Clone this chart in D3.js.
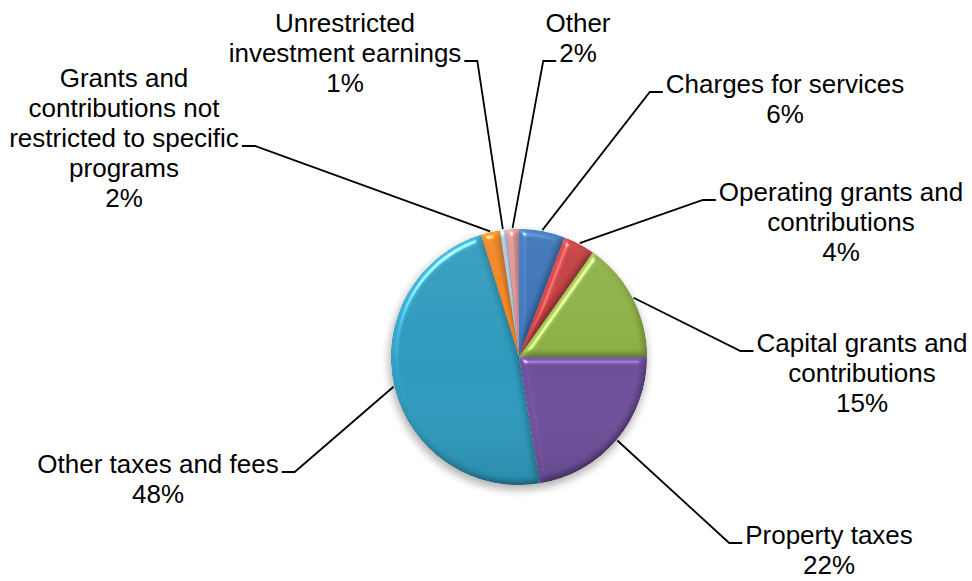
<!DOCTYPE html>
<html>
<head>
<meta charset="utf-8">
<script src="https://cdn.jsdelivr.net/npm/d3@7"></script>
<style>
  body { margin: 0; background: #fff; }
  text { font-family: "Liberation Sans", Arial, sans-serif; font-size: 26px; fill: #000; }
</style>
</head>
<body>
<div id="chart"></div>
<script>
var width  = 972;
var height = 581;

// slices, clockwise from 12 o'clock
var categories = [
  "Charges for services",
  "Operating grants and\ncontributions",
  "Capital grants and\ncontributions",
  "Property taxes",
  "Other taxes and fees",
  "Grants and\ncontributions not\nrestricted to specific\nprograms",
  "Unrestricted\ninvestment earnings",
  "Other"
];
var values = [5.8, 4.0, 15.2, 22.4, 47.8, 2.4, 0.8, 1.6];
var colors = ["#386eb3", "#c0383a", "#89ad41", "#6b4c98", "#2b97ba", "#ee801c", "#a9c1de", "#d48e8d"];

// label placement: [text centre x, first baseline y, line the leader attaches to, side]
var labelLayout = [
  [785, 93, 0, "left"],
  [841, 201, 0, "left"],
  [862, 352, 0, "left"],
  [829, 544, 0, "left"],
  [158, 473, 0, "right"],
  [124, 87, 2, "right"],
  [345, 32, 1, "right"],
  [578, 32, 1, "left"]
];

var cx = 519, cy = 357, radius = 128;
var lineH = 30;

var svg = d3.select('#chart')
  .append('svg')
  .attr('width', width)
  .attr('height', height);

var defs = svg.append('defs');

// soft bevel, light from upper left
var bevel = defs.append('filter')
  .attr('id', 'bevel')
  .attr('x', '-10%').attr('y', '-10%')
  .attr('width', '120%').attr('height', '120%')
  .attr('color-interpolation-filters', 'sRGB');
bevel.append('feGaussianBlur').attr('in', 'SourceAlpha').attr('stdDeviation', 3).attr('result', 'blur');
bevel.append('feDiffuseLighting')
  .attr('in', 'blur').attr('surfaceScale', 1.6).attr('diffuseConstant', 1)
  .attr('lighting-color', '#fff').attr('result', 'diff')
  .append('feDistantLight').attr('azimuth', 235).attr('elevation', 55);
bevel.append('feComposite')
  .attr('in', 'SourceGraphic').attr('in2', 'diff').attr('operator', 'arithmetic')
  .attr('k1', 1.22).attr('k2', 0).attr('k3', 0).attr('k4', 0).attr('result', 'shaded');
bevel.append('feSpecularLighting')
  .attr('in', 'blur').attr('surfaceScale', 3).attr('specularConstant', 0.6)
  .attr('specularExponent', 80).attr('lighting-color', '#fff').attr('result', 'spec')
  .append('feDistantLight').attr('azimuth', 235).attr('elevation', 55);
bevel.append('feComposite').attr('in', 'spec').attr('in2', 'SourceAlpha').attr('operator', 'in').attr('result', 'specIn');
bevel.append('feComposite')
  .attr('in', 'shaded').attr('in2', 'specIn').attr('operator', 'arithmetic')
  .attr('k1', 0).attr('k2', 1).attr('k3', 1).attr('k4', 0).attr('result', 'lit');
bevel.append('feComposite').attr('in', 'lit').attr('in2', 'SourceAlpha').attr('operator', 'in');

var shadow = defs.append('filter').attr('id', 'shadow')
  .attr('x', '-20%').attr('y', '-20%').attr('width', '140%').attr('height', '140%');
shadow.append('feGaussianBlur').attr('stdDeviation', 4);

var shade = defs.append('linearGradient').attr('id', 'shade')
  .attr('x1', 0).attr('y1', 0).attr('x2', 0).attr('y2', 1);
shade.append('stop').attr('offset', '0%').attr('stop-color', '#fff').attr('stop-opacity', 0.08);
shade.append('stop').attr('offset', '55%').attr('stop-color', '#fff').attr('stop-opacity', 0);
shade.append('stop').attr('offset', '100%').attr('stop-color', '#000').attr('stop-opacity', 0.1);

var pie = d3.pie().sort(null).value(function(d) { return d; });
var arcs = pie(values);

var arc = d3.arc().innerRadius(0).outerRadius(radius);
var edgeArc = d3.arc().innerRadius(radius + 1).outerRadius(radius + 1);

var g = svg.append('g')
  .attr('transform', 'translate(' + cx + ',' + cy + ')');

g.append('circle')
  .attr('cx', -1).attr('cy', 4)
  .attr('r', radius + 1)
  .attr('fill', '#000')
  .attr('opacity', 0.3)
  .attr('filter', 'url(#shadow)');

g.selectAll('path.slice')
  .data(arcs)
  .enter()
  .append('path')
  .attr('class', 'slice')
  .attr('d', arc)
  .attr('fill', function(d, i) { return colors[i]; })
  .attr('filter', 'url(#bevel)');

g.append('circle')
  .attr('r', radius)
  .attr('fill', 'url(#shade)')
  .attr('pointer-events', 'none');

// labels
var labels = svg.selectAll('text.label')
  .data(arcs)
  .enter()
  .append('text')
  .attr('class', 'label')
  .attr('text-anchor', 'middle');

labels.each(function(d, i) {
  var lay = labelLayout[i];
  var lines = categories[i].split('\n');
  lines.push(Math.round(values[i]) + '%');
  var t = d3.select(this);
  lines.forEach(function(s, k) {
    t.append('tspan')
      .attr('x', lay[0])
      .attr('y', lay[1] + k * lineH)
      .text(s);
  });
});

// leader lines
labels.each(function(d, i) {
  var lay = labelLayout[i];
  var span = d3.select(this).selectAll('tspan').nodes()[lay[2]];
  var len = span.getComputedTextLength();
  var y = lay[1] + lay[2] * lineH - 1;
  var inner, outer;
  if (lay[3] == "left") {
    inner = lay[0] - len / 2 - 3;
    outer = inner - 13;
  } else {
    inner = lay[0] + len / 2 + 3;
    outer = inner + 13;
  }
  var p = edgeArc.centroid(d);
  svg.append('path')
    .attr('d', 'M' + (p[0] + cx) + ',' + (p[1] + cy) + 'L' + outer + ',' + y + 'L' + inner + ',' + y)
    .attr('fill', 'none')
    .attr('stroke', '#000')
    .attr('stroke-width', 1.8);
});
</script>
</body>
</html>
